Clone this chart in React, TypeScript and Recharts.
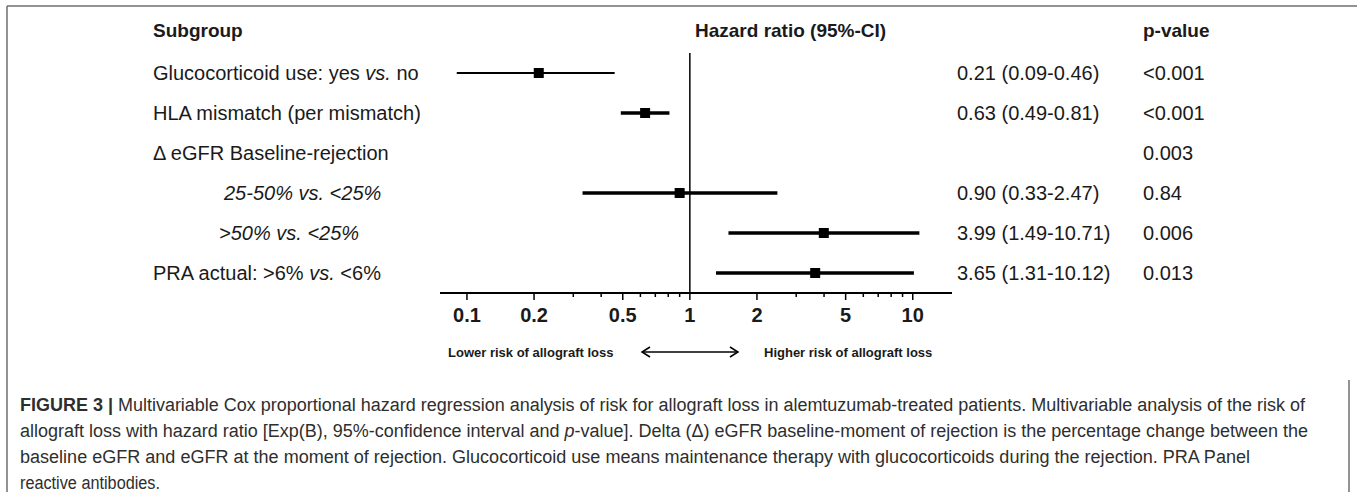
import React from 'react';
import { ErrorBar, ReferenceLine, Scatter, ScatterChart, XAxis, YAxis } from 'recharts';

const SUBGROUPS = [
  'Glucocorticoid use: yes vs. no',
  'HLA mismatch (per mismatch)',
  'Δ eGFR Baseline-rejection',
  '25-50% vs. <25%',
  '>50% vs. <25%',
  'PRA actual: >6% vs. <6%',
];
const INDENT = [0, 0, 0, 71, 66, 0];
const ITALIC_ROWS = [3, 4];
const HAZARD = [0.21, 0.63, null, 0.9, 3.99, 3.65];
const CI_LOW = [0.09, 0.49, null, 0.33, 1.49, 1.31];
const CI_HIGH = [0.46, 0.81, null, 2.47, 10.71, 10.12];
const P_VALUES = ['<0.001', '<0.001', '0.003', '0.84', '0.006', '0.013'];
const THIN_ROWS = [0];

const X_TICKS = [0.1, 0.2, 0.3, 0.4, 0.5, 0.6, 0.7, 0.8, 0.9, 1, 2, 3, 4, 5, 6, 7, 8, 9, 10];
const X_LABELS = [0.1, 0.2, 0.5, 1, 2, 5, 10];
const X_DOMAIN: [number, number] = [0.0757, 15];
const ROW_TICKS = [1, 2, 3, 4, 5, 6];

const CAPTION_LINES = [
  'Multivariable Cox proportional hazard regression analysis of risk for allograft loss in alemtuzumab-treated patients. Multivariable analysis of the risk of',
  'baseline eGFR and eGFR at the moment of rejection. Glucocorticoid use means maintenance therapy with glucocorticoids during the rejection. PRA Panel',
  'reactive antibodies.',
];

const W = 1357;
const H = 492;
const FONT = '"Liberation Sans", Arial, Helvetica, sans-serif';
const INK = '#1a1a1a';

const fmt = (v: number) => v.toFixed(2);

const rows = SUBGROUPS.map((_, i) => ({
  row: i + 1,
  hr: HAZARD[i],
  err: HAZARD[i] == null ? null : [HAZARD[i]! - CI_LOW[i]!, CI_HIGH[i]! - HAZARD[i]!],
})).filter((r) => r.hr != null);

const thinData = rows.filter((r) => THIN_ROWS.includes(r.row - 1));
const thickData = rows.filter((r) => !THIN_ROWS.includes(r.row - 1));

const Square = (props: any) => (
  <rect x={props.cx - 5} y={props.cy - 5} width={10} height={10} fill="#000" />
);

const withVs = (label: string) => {
  const parts = label.split('vs.');
  if (parts.length < 2) return label;
  return (
    <>
      {parts[0]}
      <tspan fontStyle="italic">vs.</tspan>
      {parts[1]}
    </>
  );
};

// row label on the left, HR (CI) and p-value in the right-hand columns
const RowTick = (props: any) => {
  const i = props.payload.value - 1;
  const italic = ITALIC_ROWS.includes(i);
  const hr = HAZARD[i];
  return (
    <g fontSize={20} fontFamily={FONT} fill={INK}>
      <text
        x={153 + INDENT[i]}
        y={props.y}
        dy="0.35em"
        fontStyle={italic ? 'italic' : 'normal'}
        textAnchor="start"
      >
        {italic ? SUBGROUPS[i] : withVs(SUBGROUPS[i])}
      </text>
      {hr != null && (
        <text x={957} y={props.y} dy="0.35em" textAnchor="start">
          {`${fmt(hr)} (${fmt(CI_LOW[i]!)}-${fmt(CI_HIGH[i]!)})`}
        </text>
      )}
      <text x={1143} y={props.y} dy="0.35em" textAnchor="start">
        {P_VALUES[i]}
      </text>
    </g>
  );
};

const HrTick = (props: any) => {
  const v = props.payload.value;
  const major = X_LABELS.includes(v);
  return (
    <g>
      <line x1={props.x} x2={props.x} y1={props.y} y2={props.y + (major ? 7 : 4)} stroke="#000" strokeWidth={1.5} />
      {major && (
        <text
          x={props.x}
          y={props.y + 22}
          dy="0.35em"
          textAnchor="middle"
          fontSize={20}
          fontWeight="bold"
          fontFamily={FONT}
          fill={INK}
        >
          {v}
        </text>
      )}
    </g>
  );
};

export default function App() {
  return (
    <div style={{ position: 'relative', width: W, height: H, background: '#fff' }}>
      <style>{'body{margin:0;}'}</style>
      <ScatterChart width={W} height={H} margin={{ top: 53, right: W - 952, bottom: 139, left: 0 }}>
        <XAxis
          type="number"
          dataKey="hr"
          scale="log"
          domain={X_DOMAIN}
          allowDataOverflow
          ticks={X_TICKS}
          interval={0}
          tick={<HrTick />}
          tickLine={false}
          tickSize={0}
          tickMargin={0}
          height={60}
          axisLine={{ stroke: '#000', strokeWidth: 2 }}
        />
        <YAxis
          type="number"
          dataKey="row"
          domain={[0.5, 6.5]}
          reversed
          ticks={ROW_TICKS}
          interval={0}
          width={440}
          axisLine={false}
          tickLine={false}
          tick={<RowTick />}
        />
        <ReferenceLine x={1} stroke="#000" strokeWidth={1.5} />
        <Scatter data={thinData} dataKey="row" shape={<Square />} isAnimationActive={false}>
          <ErrorBar dataKey="err" direction="x" width={0} stroke="#000" strokeWidth={2} />
        </Scatter>
        <Scatter data={thickData} dataKey="row" shape={<Square />} isAnimationActive={false}>
          <ErrorBar dataKey="err" direction="x" width={0} stroke="#000" strokeWidth={3.5} />
        </Scatter>
      </ScatterChart>

      <svg
        width={W}
        height={H}
        style={{ position: 'absolute', left: 0, top: 0, pointerEvents: 'none' }}
      >
        <line x1={7} x2={W} y1={6} y2={6} stroke="#6e6e6e" strokeWidth={1.5} />
        <line x1={7} x2={7} y1={6} y2={H} stroke="#6e6e6e" strokeWidth={1.5} />
        <line x1={1349} x2={1349} y1={380} y2={H} stroke="#6e6e6e" strokeWidth={1.5} />

        <g fontFamily={FONT} fontWeight="bold" fontSize={19} fill={INK}>
          <text x={153} y={37}>Subgroup</text>
          <text x={695} y={37}>Hazard ratio (95%-CI)</text>
          <text x={1143} y={37}>p-value</text>
        </g>

        <g fontFamily={FONT} fontWeight="bold" fontSize={13} fill={INK}>
          <text x={448} y={357}>Lower risk of allograft loss</text>
          <text x={764} y={357}>Higher risk of allograft loss</text>
        </g>
        <g stroke="#000" strokeWidth={1.5} fill="none">
          <line x1={642} x2={738} y1={352} y2={352} />
          <polyline points="650,347 642,352 650,357" />
          <polyline points="730,347 738,352 730,357" />
        </g>

        <g fontFamily={FONT} fontSize={18} fill="#2e2e2e">
          <text x={20} y={411} textLength={1285} lengthAdjust="spacingAndGlyphs">
            <tspan fontWeight="bold">FIGURE 3 | </tspan>
            {CAPTION_LINES[0]}
          </text>
          <text x={20} y={437} textLength={1288} lengthAdjust="spacingAndGlyphs">
            allograft loss with hazard ratio [Exp(B), 95%-confidence interval and{' '}
            <tspan fontStyle="italic">p</tspan>-value]. Delta (Δ) eGFR baseline-moment of rejection is the
            percentage change between the
          </text>
          <text x={20} y={463} textLength={1230} lengthAdjust="spacingAndGlyphs">
            {CAPTION_LINES[1]}
          </text>
          <text x={20} y={489} textLength={140} lengthAdjust="spacingAndGlyphs">
            {CAPTION_LINES[2]}
          </text>
        </g>
      </svg>
    </div>
  );
}
